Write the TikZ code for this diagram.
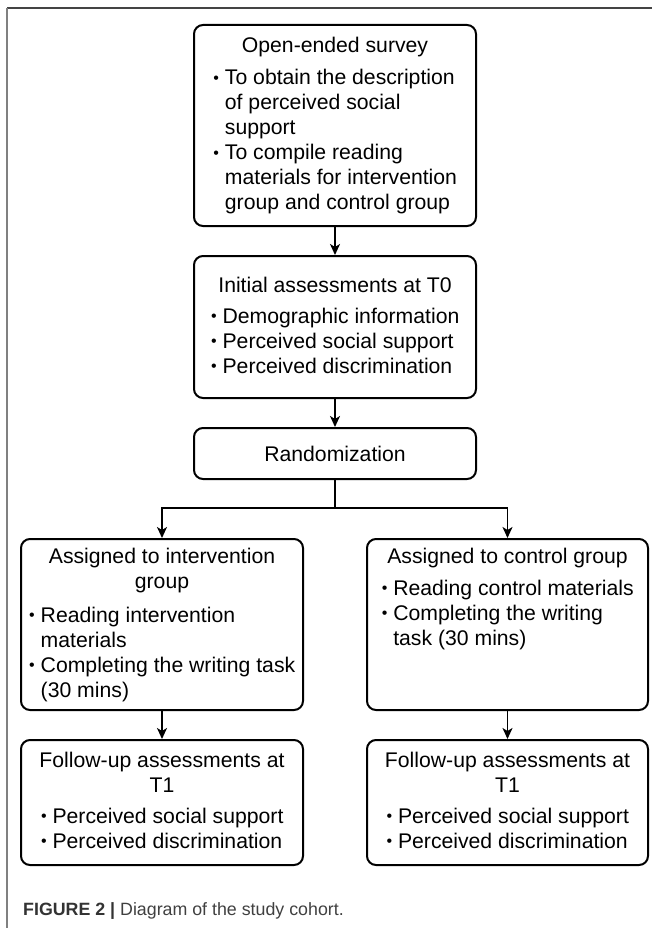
\documentclass[tikz,border=0pt]{standalone}
\usepackage{fontspec}
\setmainfont{Liberation Sans}
\usetikzlibrary{arrows.meta}
\newcommand{\bul}{\makebox[12pt][l]{\hspace{0.5pt}\raisebox{1.2pt}{\fontsize{16}{16}\selectfont\textbullet}}}
\newcommand{\ind}{\hspace*{12pt}}
\definecolor{framedark}{HTML}{444444}
\definecolor{framelight}{HTML}{808080}
\definecolor{capgray}{HTML}{333333}
\tikzset{
  box/.style={draw=black, line width=2pt, rounded corners=9pt, inner sep=0pt},
  txt/.style={anchor=base, inner sep=0pt, font=\fontsize{21.2}{25}\selectfont},
  arr/.style={draw=black, line width=1.7pt, -{Stealth[length=11pt,width=10pt,inset=3pt]}},
  conn/.style={draw=black, line width=1.7pt},
}
\begin{document}
\begin{tikzpicture}[x=1pt,y=-1pt]
\useasboundingbox (0,0) rectangle (652,928);
% outer frame
\draw[framedark, line width=1.3pt] (7,8) -- (652,8);
\draw[framelight, line width=1.8pt] (7,8) -- (7,928);

% boxes
\node[box, minimum width=282pt, minimum height=201pt] (b1) at (335,125.5) {};
\node[box, minimum width=282pt, minimum height=142pt] (b2) at (335,327) {};
\node[box, minimum width=282pt, minimum height=51pt, font=\fontsize{21.2}{25}\selectfont] (b3) at (335,453.5) {Randomization};
\node[box, minimum width=282pt, minimum height=171pt] (b4) at (162,624.5) {};
\node[box, minimum width=281pt, minimum height=171pt] (b5) at (507.5,624.5) {};
\node[box, minimum width=282pt, minimum height=125pt] (b6) at (162,802.5) {};
\node[box, minimum width=281pt, minimum height=125pt] (b7) at (507.5,802.5) {};

% texts
\node[txt] (t1) at (335,53) {\begin{tabular}[t]{@{}c@{}}Open-ended survey\\[7pt]
\begin{tabular}[t]{@{}l@{}}\bul To obtain the description\\ \ind of perceived social\\ \ind support\\
\bul To compile reading\\ \ind materials for intervention\\ \ind group and control group\end{tabular}\end{tabular}};

\node[txt] (t2) at (335,292) {\begin{tabular}[t]{@{}c@{}}Initial assessments at T0\\[6pt]
\begin{tabular}[t]{@{}l@{}}\bul Demographic information\\ \bul Perceived social support\\ \bul Perceived discrimination\end{tabular}\end{tabular}};

\node[txt] (t4) at (162,563) {\begin{tabular}[t]{@{}c@{}}Assigned to intervention\\ group\\[9pt]
\begin{tabular}[t]{@{}l@{}}\bul Reading intervention\\ \ind materials\\ \bul Completing the writing task\\ \ind (30 mins)\end{tabular}\end{tabular}};

\node[txt] (t5) at (507.5,563) {\begin{tabular}[t]{@{}c@{}}Assigned to control group\\[7pt]
\begin{tabular}[t]{@{}l@{}}\bul Reading control materials\\ \bul Completing the writing\\ \ind task (30 mins)\end{tabular}\end{tabular}};

\node[txt] (t6) at (162,767) {\begin{tabular}[t]{@{}c@{}}Follow-up assessments at\\ T1\\[6pt]
\begin{tabular}[t]{@{}l@{}}\bul Perceived social support\\ \bul Perceived discrimination\end{tabular}\end{tabular}};

\node[txt] (t7) at (507.5,767) {\begin{tabular}[t]{@{}c@{}}Follow-up assessments at\\ T1\\[6pt]
\begin{tabular}[t]{@{}l@{}}\bul Perceived social support\\ \bul Perceived discrimination\end{tabular}\end{tabular}};

% connectors
\draw[arr] (b1) -- (b2);
\draw[arr] (b2) -- (b3);
\coordinate (split) at (335,508);
\draw[conn] (b3) -- (split);
\draw[arr] (split) -| (b4.north);
\draw[arr] (split) -| (b5.north);
\draw[arr] (b4) -- (b6);
\draw[arr] (b5) -- (b7);

% caption
\node[anchor=base west, inner sep=0pt, text=capgray, font=\fontsize{17.8}{20}\selectfont] (cap) at (23,915)
  {\textbf{FIGURE 2 |} {\color{black!75}Diagram of the study cohort.}};
\end{tikzpicture}
\end{document}
